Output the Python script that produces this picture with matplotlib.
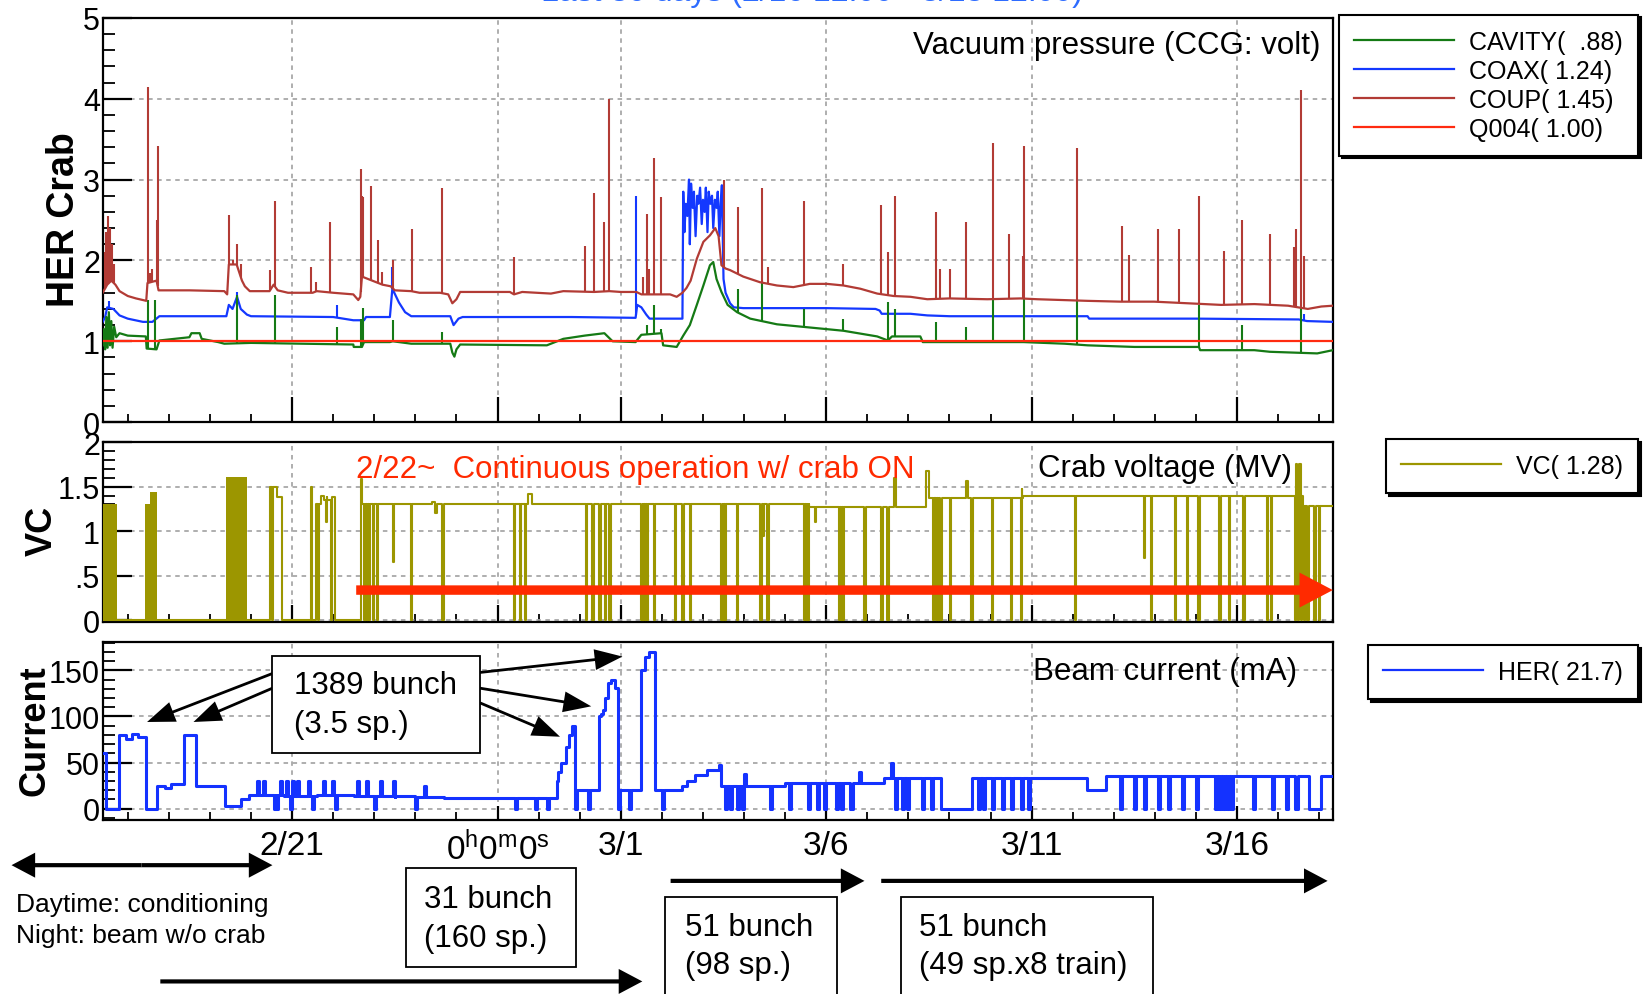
import numpy as np
import matplotlib.pyplot as plt
from matplotlib.patches import Rectangle, FancyArrowPatch, ArrowStyle
from matplotlib.lines import Line2D
from matplotlib.ticker import FixedLocator, MultipleLocator

plt.rcParams['font.family'] = ['Liberation Sans', 'DejaVu Sans']

# time axis: days counted from 2/21 00:00
t_first, t_last = -4.61, 25.33
date_ticks = [0, 5, 8, 13, 18, 23]
date_labels = ['2/21', r'$\mathregular{0^h0^m0^s}$', '3/1', '3/6', '3/11', '3/16']

# ---------------- HER crab vacuum, CCG (volt) ----------------
coup_t = [-4.61, -4.50, -4.40, -4.30, -4.20, -4.00, -3.80, -3.63, -3.55, -3.52, -3.30, -3.25,
          -2.50, -1.65, -1.58, -1.54, -1.35, -1.22, -1.15, -1.03, -0.55, -0.45, -0.35, -0.10,
          0.50, 0.60, 1.00, 1.49, 1.61, 1.66, 1.70, 1.95, 2.20, 2.40, 2.50, 2.90, 3.10, 3.60,
          3.80, 3.90, 4.00, 4.09, 5.30, 5.40, 5.60, 6.30, 6.60, 7.35, 7.72, 8.00, 8.38, 8.50,
          9.20, 9.36, 9.50, 9.60, 9.70, 9.85, 10.01, 10.17, 10.30, 10.38, 10.45, 10.55, 10.66,
          10.98, 11.39, 11.80, 12.20, 12.60, 13.02, 13.42, 13.83, 14.24, 14.64, 15.05, 15.46,
          16.00, 16.92, 17.73, 18.14, 19.36, 20.17, 20.98, 21.80, 22.61, 23.42, 24.24, 24.72,
          25.05, 25.33]
coup_v = [1.60, 1.70, 1.75, 1.70, 1.62, 1.56, 1.53, 1.51, 1.50, 1.72, 1.75, 1.63,
          1.63, 1.62, 1.58, 1.95, 1.95, 1.75, 1.68, 1.62, 1.62, 1.70, 1.63, 1.60,
          1.60, 1.62, 1.60, 1.58, 1.51, 1.55, 1.80, 1.75, 1.70, 1.68, 1.63, 1.62, 1.60, 1.60,
          1.58, 1.47, 1.52, 1.61, 1.61, 1.58, 1.61, 1.59, 1.62, 1.61, 1.62, 1.61, 1.61, 1.58,
          1.58, 1.55, 1.60, 1.66, 1.75, 2.02, 2.23, 2.31, 2.40, 2.30, 1.94, 1.90, 1.88,
          1.80, 1.73, 1.69, 1.67, 1.71, 1.71, 1.69, 1.65, 1.59, 1.56, 1.55, 1.52,
          1.53, 1.52, 1.53, 1.52, 1.50, 1.49, 1.49, 1.47, 1.45, 1.46, 1.44, 1.40,
          1.43, 1.44]
coup_spike_t = [-4.56, -4.52, -4.48, -4.45, -4.42, -4.38, -4.34, -3.50, -3.45, -3.40,
                -3.30, -3.27, -1.54, -1.45, -1.34, -1.25, -0.54, -0.42, 0.45, 0.58,
                0.92, 1.67, 1.70, 1.73, 1.91, 2.08, 2.20, 2.46, 2.91, 3.64,
                5.39, 7.12, 7.35, 7.59, 7.71, 8.53, 8.63, 8.69, 8.80, 8.99,
                10.50, 10.85, 11.43, 11.59, 12.46, 13.42, 14.33, 14.50, 14.68, 15.66,
                15.78, 16.02, 16.41, 17.07, 17.46, 17.78, 17.81, 19.10, 20.20, 20.37,
                21.07, 21.59, 22.07, 22.69, 23.11, 23.80, 24.38, 24.44, 24.56, 24.62]
coup_spike_v = [2.10, 2.35, 2.55, 2.30, 2.40, 2.20, 1.95, 4.15, 1.85, 1.90,
                2.50, 3.42, 2.56, 2.00, 2.20, 1.95, 1.88, 2.74, 1.92, 1.73,
                2.48, 3.13, 2.80, 2.78, 2.92, 2.25, 1.86, 2.00, 2.39, 2.89,
                2.04, 2.18, 2.83, 2.48, 4.00, 1.80, 2.57, 1.89, 3.27, 2.78,
                2.99, 2.66, 2.89, 1.92, 2.74, 1.96, 2.68, 2.10, 2.80, 2.60,
                1.89, 1.89, 2.48, 3.45, 2.33, 2.05, 3.42, 3.39, 2.42, 2.07,
                2.39, 2.39, 2.80, 2.12, 2.50, 2.33, 2.16, 2.39, 4.11, 2.06]

coax_t = [-4.61, -4.55, -4.50, -4.35, -4.20, -4.00, -3.63, -3.40, -3.23, -1.60,
          -1.54, -1.45, -1.34, -1.25, -1.10, -1.00, 1.00, 1.49, 1.75, 1.80,
          2.38, 2.44, 2.60, 2.75, 2.90, 3.85, 3.93, 4.05, 4.15, 6.80,
          8.36, 8.40, 8.50, 8.62, 8.70, 9.50, 9.52, 9.55, 9.58, 9.62,
          9.66, 9.68, 9.71, 9.75, 9.78, 9.82, 9.86, 9.89, 9.93, 9.97,
          10.00, 10.04, 10.07, 10.11, 10.14, 10.18, 10.22, 10.25, 10.29, 10.33,
          10.36, 10.40, 10.43, 10.46, 10.50, 10.55, 10.66, 10.75, 10.98, 12.00,
          13.00, 14.20, 14.30, 14.35, 15.05, 15.46, 16.00, 19.36, 19.40, 22.00,
          24.50, 24.70, 25.33]
coax_v = [1.24, 1.30, 1.42, 1.40, 1.32, 1.28, 1.24, 1.24, 1.31, 1.31,
          1.45, 1.40, 1.55, 1.40, 1.33, 1.31, 1.30, 1.26, 1.26, 1.30,
          1.30, 1.65, 1.48, 1.36, 1.31, 1.31, 1.20, 1.28, 1.30, 1.30,
          1.29, 1.45, 1.42, 1.33, 1.28, 1.28, 2.85, 2.35, 2.70, 2.55,
          3.00, 2.20, 2.95, 2.65, 2.85, 2.30, 2.80, 2.70, 2.90, 2.45,
          2.75, 2.60, 2.90, 2.35, 2.85, 2.70, 2.80, 2.40, 2.75, 2.65,
          2.85, 2.30, 2.70, 2.93, 1.77, 1.60, 1.47, 1.42, 1.41, 1.41,
          1.41, 1.40, 1.38, 1.34, 1.34, 1.32, 1.31, 1.31, 1.28, 1.28,
          1.27, 1.25, 1.24]
coax_spike_t = [-4.45, -1.34, 1.10, 2.44, 8.37, 24.62]
coax_spike_v = [1.50, 1.61, 1.45, 1.92, 2.80, 1.34]

cav_t = [-4.61, -4.58, -4.55, -4.52, -4.49, -4.46, -4.43, -4.40, -4.37, -4.33,
         -4.28, -4.20, -4.00, -3.56, -3.54, -3.30, -3.23, -2.50, -2.45, -2.25,
         -2.20, -1.80, -1.65, -1.00, 1.49, 1.50, 1.70, 1.75, 2.38, 2.45,
         2.90, 3.85, 3.90, 3.95, 4.00, 4.09, 6.20, 6.60, 7.12, 7.60,
         7.80, 8.36, 8.42, 8.50, 8.99, 9.03, 9.36, 9.52, 9.68, 9.85,
         10.01, 10.17, 10.25, 10.33, 10.45, 10.60, 10.83, 11.15, 11.80, 12.61,
         13.42, 14.24, 14.50, 14.60, 15.29, 15.35, 17.80, 18.80, 19.36, 20.50,
         22.07, 22.10, 23.42, 23.80, 24.95, 25.33]
cav_v = [0.95, 1.15, 0.90, 1.30, 0.92, 1.36, 0.95, 1.25, 0.92, 1.18,
         1.05, 1.10, 1.07, 1.06, 0.91, 0.90, 1.01, 1.05, 1.10, 1.10,
         1.03, 0.99, 0.97, 0.98, 0.96, 0.93, 0.93, 0.99, 0.99, 1.00,
         0.97, 0.97, 0.86, 0.81, 0.90, 0.96, 0.95, 1.03, 1.07, 1.10,
         1.00, 0.99, 1.03, 1.08, 1.10, 0.95, 0.93, 1.07, 1.20, 1.45,
         1.69, 1.94, 1.98, 1.77, 1.61, 1.45, 1.36, 1.28, 1.21, 1.17,
         1.13, 1.06, 1.01, 1.06, 1.06, 0.99, 0.99, 0.97, 0.95, 0.93,
         0.93, 0.89, 0.89, 0.87, 0.85, 0.89]
cav_spike_t = [-3.50, -3.33, -1.34, -0.42, 1.10, 1.67, 1.73, 2.46, 3.64, 8.63,
               8.80, 8.99, 10.85, 11.43, 12.46, 13.42, 14.50, 14.68, 15.66, 16.41,
               17.07, 17.81, 19.10, 22.07, 23.11, 24.56]
cav_spike_v = [1.51, 1.51, 1.57, 1.57, 1.18, 1.28, 1.41, 1.26, 1.12, 1.20,
               1.45, 1.15, 1.65, 1.73, 1.40, 1.28, 1.49, 1.40, 1.24, 1.18,
               1.51, 1.53, 1.51, 1.45, 1.20, 1.42]

q004_t = [t_first, t_last]
q004_v = [1.00, 1.00]

# ---------------- crab voltage (MV) ----------------
vc_t = [-4.61, -0.55, -0.36, -0.25, 0.46, 0.48, 0.57, 0.70, 0.78, 0.85,
        1.04, 1.67, 1.70, 3.40, 3.47, 3.52, 5.75, 5.83, 12.58, 14.66,
        14.70, 15.42, 15.50, 16.40, 16.44, 17.76, 17.80, 24.44, 24.50, 24.60, 25.33]
vc_v = [0.00, 1.50, 1.38, 0.00, 1.50, 0.00, 1.31, 1.40, 1.35, 1.38,
        0.00, 1.59, 1.31, 1.33, 1.20, 1.31, 1.42, 1.31, 1.27, 1.60,
        1.27, 1.68, 1.37, 1.56, 1.37, 1.47, 1.40, 1.75, 1.40, 1.28, 1.28]
vc_trip_t = [-0.50, 0.62, 0.82, 0.95, 1.74, 1.78, 1.82, 1.87, 1.97, 2.07,
             2.46, 2.89, 3.66, 5.40, 5.55, 5.66, 7.15, 7.31, 7.48, 7.62,
             7.72, 8.50, 8.54, 8.58, 8.63, 8.80, 9.32, 9.50, 9.68, 10.45,
             10.49, 10.53, 10.82, 11.40, 11.46, 11.57, 12.46, 12.50, 12.54, 12.72,
             13.30, 13.35, 13.41, 13.93, 14.34, 14.49, 15.60, 15.66, 15.72, 15.78,
             16.01, 16.53, 17.04, 17.50, 17.74, 19.06, 20.73, 20.90, 21.48, 21.77,
             22.06, 22.57, 22.80, 23.15, 23.73, 23.82, 24.42, 24.48, 24.55, 24.62,
             24.71, 24.88, 24.99]
vc_trip_v = [0, 0, 1.10, 0, 0, 0, 0, 0, 0, 0,
             0.65, 0, 0, 0, 0, 0, 0, 0, 0, 0,
             0, 0, 0, 0, 0, 0, 0, 0, 0, 0,
             0, 0, 0, 0, 0.95, 0, 0, 0, 0, 1.10,
             0, 0, 0, 0, 0, 0, 0, 0, 0, 0,
             0, 0, 0, 0, 0, 0, 0.70, 0, 0, 0,
             0, 0, 0, 0, 0, 0, 0, 0, 0, 0,
             0, 0, 0]
# conditioning periods (dense on/off switching)
vc_block_start = [-4.61, -3.57, -3.45, -1.60]
vc_block_end = [-4.26, -3.45, -3.28, -1.09]
vc_block_top = [1.31, 1.31, 1.44, 1.61]

# ---------------- HER beam current (mA) ----------------
her_t = [-4.61, -4.53, -4.22, -4.05, -3.90, -3.75, -3.55, -3.28, -3.10, -2.95,
         -2.62, -2.35, -1.64, -1.25, -1.05, -0.20, 0.60, 1.50, 2.50, 3.70,
         4.50, 6.44, 6.47, 6.55, 6.66, 6.75, 6.82, 6.88, 6.93, 7.37,
         7.46, 7.52, 7.57, 7.62, 7.70, 7.76, 7.85, 7.94, 7.97, 8.46,
         8.50, 8.60, 8.68, 8.83, 9.50, 9.60, 9.80, 10.10, 10.40, 10.44,
         12.00, 14.40, 15.80, 16.55, 19.35, 19.80, 24.76, 25.05, 25.33]
her_v = [60, 0, 80, 76, 81, 78, 0, 25, 22, 27,
         80, 25, 3, 10, 15, 14, 15, 14, 13, 12,
         12, 30, 40, 50, 67, 80, 90, 0, 20, 20,
         100, 103, 107, 120, 136, 140, 131, 0, 20, 20,
         150, 165, 170, 20, 25, 30, 36, 42, 47, 25,
         28, 33, 0, 33, 20, 35, 0, 35, 35]
her_trip_t = [-0.85, -0.70, -0.45, -0.40, -0.30, -0.15, -0.05, 0.00, 0.12, 0.38,
              0.49, 0.75, 0.98, 1.05, 1.58, 1.80, 2.00, 2.15, 2.46, 3.00,
              3.20, 5.42, 5.90, 6.20, 7.20, 8.20, 9.00, 10.53, 10.65, 10.82,
              10.94, 11.00, 11.63, 12.09, 12.55, 12.78, 12.95, 13.24, 13.36, 13.59,
              13.80, 14.57, 14.68, 14.85, 14.97, 15.32, 15.55, 16.70, 16.81, 17.04,
              17.27, 17.50, 17.74, 17.91, 20.15, 20.50, 20.73, 21.08, 21.31, 21.65,
              22.00, 22.46, 22.55, 22.65, 22.75, 22.85, 23.38, 23.84, 24.19, 24.42]
her_trip_v = [30, 30, 0, 0, 30, 30, 0, 30, 30, 30,
              0, 30, 30, 0, 30, 30, 0, 30, 30, 0,
              25, 0, 0, 0, 0, 0, 0, 0, 0, 0,
              0, 38, 0, 0, 0, 0, 0, 0, 0, 0,
              40, 50, 0, 0, 0, 0, 0, 0, 0, 0,
              0, 0, 0, 0, 0, 0, 0, 0, 0, 0,
              0, 0, 0, 0, 0, 0, 0, 0, 0, 0]

# arrow targets on the beam current trace (day, mA)
bunch_t = [-3.53, -2.40, 8.04, 7.28, 6.52]
bunch_v = [94, 94, 165, 111, 78]

c_cav, c_coax, c_coup, c_q004 = '#157a15', '#1438ff', '#b23b35', '#ff2b10'
c_vc, c_her, c_red = '#9c9600', '#1432ff', '#ff2a00'


def with_trips(t, v, trip_t, trip_v, width):
    # step trace with short excursions put in at the given times
    t = np.asarray(t, float)
    v = np.asarray(v, float)
    tt, vv = list(t), list(v)
    for d, lo in zip(trip_t, trip_v):
        lvl = v[np.searchsorted(t, d, side='right') - 1]
        tt += [d, d + width]
        vv += [lo, lvl]
    order = np.argsort(tt, kind='stable')
    return np.array(tt)[order], np.array(vv)[order]


def spikes(ax, st, sv, bt, bv, **kw):
    foot = np.interp(st, bt, bv)
    ax.vlines(st, foot, sv, **kw)


# layout grid: 1568 x 950 units across the figure
def fx(x):
    return x / 1568.0


def fy(y):
    return 1 - y / 950.0


fig = plt.figure(figsize=(16.43, 9.95), dpi=100)
L, R = 98, 1272
ax1 = fig.add_axes([fx(L), fy(404), fx(R) - fx(L), fy(18) - fy(404)])
ax2 = fig.add_axes([fx(L), fy(595), fx(R) - fx(L), fy(423) - fy(595)])
ax3 = fig.add_axes([fx(L), fy(784), fx(R) - fx(L), fy(614) - fy(784)])

# vacuum
ax1.plot(coax_t, coax_v, color=c_coax, lw=1.6, zorder=3)
spikes(ax1, coax_spike_t, coax_spike_v, coax_t, coax_v, color=c_coax, lw=1.5, zorder=3)
ax1.plot(cav_t, cav_v, color=c_cav, lw=1.6, zorder=4)
spikes(ax1, cav_spike_t, cav_spike_v, cav_t, cav_v, color=c_cav, lw=1.5, zorder=4)
ax1.plot(coup_t, coup_v, color=c_coup, lw=1.6, zorder=5)
spikes(ax1, coup_spike_t, coup_spike_v, coup_t, coup_v, color=c_coup, lw=1.5, zorder=5)
ax1.plot(q004_t, q004_v, color=c_q004, lw=1.6, zorder=6)
ax1.set_ylim(0, 5)

# crab voltage
for s, e, top in zip(vc_block_start, vc_block_end, vc_block_top):
    ax2.fill_between([s, e], 0, top, color=c_vc, lw=0, zorder=3)
vt, vv = with_trips(vc_t, vc_v, vc_trip_t, vc_trip_v, 0.03)
ax2.plot(vt, vv, color=c_vc, lw=1.5, drawstyle='steps-post', zorder=3)
ax2.set_ylim(-0.02, 2)

# beam current
ht, hv = with_trips(her_t, her_v, her_trip_t, her_trip_v, 0.05)
ax3.plot(ht, hv, color=c_her, lw=2.2, drawstyle='steps-post', zorder=3)
ax3.set_ylim(-12.5, 180.7)

ax1.set_yticks([0, 1, 2, 3, 4, 5], labels=['0', '1', '2', '3', '4', '5'])
ax1.yaxis.set_minor_locator(MultipleLocator(0.2))
ax2.set_yticks([0, 0.5, 1, 1.5, 2], labels=['0', '.5', '1', '1.5', '2'])
ax2.yaxis.set_minor_locator(MultipleLocator(0.1))
ax3.set_yticks([0, 50, 100, 150], labels=['0', '50', '100', '150'])
ax3.yaxis.set_minor_locator(MultipleLocator(10))

for ax, xlen in [(ax1, 18), (ax2, 12), (ax3, 10)]:
    ax.set_xlim(t_first, t_last)
    ax.xaxis.set_major_locator(FixedLocator(date_ticks))
    ax.xaxis.set_minor_locator(MultipleLocator(1))
    ax.grid(True, which='major', color='#a8a8a8', ls=(0, (2.5, 2.5)), lw=1.3)
    ax.tick_params(which='both', direction='in', top=False, right=False, colors='black')
    ax.tick_params(axis='y', which='major', length=21, width=1.6, pad=2, labelsize=22)
    ax.tick_params(axis='y', which='minor', length=8.5, width=1.3)
    ax.tick_params(axis='x', which='major', length=xlen, width=1.6, pad=7, labelsize=24)
    ax.tick_params(axis='x', which='minor', length=6, width=1.3)
    for sp in ax.spines.values():
        sp.set_linewidth(1.6)
ax1.tick_params(labelbottom=False)
ax2.tick_params(labelbottom=False)
ax3.set_xticks(date_ticks, labels=date_labels)

# axis titles
fig.text(fx(61), fy(210), 'HER Crab', rotation=90, ha='center', va='center',
         fontsize=27, fontweight='bold')
fig.text(fx(40), fy(507), 'VC', rotation=90, ha='center', va='center',
         fontsize=26, fontweight='bold')
fig.text(fx(33), fy(698), 'Current', rotation=90, ha='center', va='center',
         fontsize=26, fontweight='bold')

fig.text(fx(775), fy(1.0), 'Last 30 days (2/16 12:00 - 3/18 12:00)', color='#2e6cff',
         fontsize=23, ha='center', va='baseline')

ax1.text(0.99, 0.933, 'Vacuum pressure (CCG: volt)', transform=ax1.transAxes,
         ha='right', va='center', fontsize=22.5)
ax2.text(0.967, 0.855, 'Crab voltage (MV)', transform=ax2.transAxes,
         ha='right', va='center', fontsize=22.5)
ax3.text(0.971, 0.835, 'Beam current (mA)', transform=ax3.transAxes,
         ha='right', va='center', fontsize=22.5)
ax2.text(0.206, 0.85, '2/22~  Continuous operation w/ crab ON', transform=ax2.transAxes,
         ha='left', va='center', fontsize=22.5, color=c_red)

# continuous operation arrow
ax2.annotate('', xy=(t_last, 0.34), xytext=(1.56, 0.34), annotation_clip=False,
             arrowprops=dict(arrowstyle=ArrowStyle('simple', head_length=0.6,
                                                   head_width=0.63, tail_width=0.17),
                             mutation_scale=40, lw=0, color=c_red, shrinkA=0, shrinkB=0),
             zorder=6)


def legend_box(ax, colors, labels, top):
    handles = [Line2D([], [], color=c, lw=1.6) for c in colors]
    leg = ax.legend(handles, labels, loc='upper right', bbox_to_anchor=(0.997, top),
                    bbox_transform=fig.transFigure, fontsize=18, handlelength=4.0,
                    handletextpad=0.6, borderpad=0.6, labelspacing=0.2, borderaxespad=0,
                    fancybox=False, edgecolor='black', framealpha=1,
                    shadow={'color': 'black', 'alpha': 1})
    leg.get_frame().set_linewidth(1.5)


legend_box(ax1, [c_cav, c_coax, c_coup, c_q004],
           ['CAVITY(  .88)', 'COAX( 1.24)', 'COUP( 1.45)', 'Q004( 1.00)'], fy(15))
legend_box(ax2, [c_vc], ['VC( 1.28)'], fy(420))
legend_box(ax3, [c_her], ['HER( 21.7)'], fy(617))


def box(x0, y0, x1, y1):
    fig.add_artist(Rectangle((fx(x0), fy(y1)), fx(x1) - fx(x0), fy(y0) - fy(y1),
                             transform=fig.transFigure, fc='white', ec='black',
                             lw=1.3, clip_on=False, zorder=8))


def arrow(x0, y0, x1, y1):
    st = ArrowStyle('simple', head_length=0.85, head_width=0.9, tail_width=0.15)
    fig.add_artist(FancyArrowPatch((fx(x0), fy(y0)), (fx(x1), fy(y1)),
                                   transform=fig.transFigure, arrowstyle=st,
                                   mutation_scale=20, lw=0, color='black',
                                   shrinkA=0, shrinkB=0, zorder=9))


# 1389 bunch box and pointers
box(260, 627, 458, 720)
fig.text(fx(281), fy(655), '1389 bunch', fontsize=22.5, va='center', zorder=9)
fig.text(fx(281), fy(692), '(3.5 sp.)', fontsize=22.5, va='center', zorder=9)
starts = [(260, 644), (260, 658), (458, 643), (458, 658), (458, 672)]
for (sx, sy), bt, bv in zip(starts, bunch_t, bunch_v):
    ax3.annotate('', xy=(bt, bv), xytext=(fx(sx), fy(sy)), textcoords='figure fraction',
                 annotation_clip=False,
                 arrowprops=dict(arrowstyle=ArrowStyle('simple', head_length=1.0,
                                                       head_width=0.75, tail_width=0.1),
                                 mutation_scale=20, lw=0, color='black',
                                 shrinkA=0, shrinkB=0))

# period annotations below the time axis
arrow(135, 827, 11, 827)
arrow(135, 827, 260, 827)
fig.text(fx(15), fy(864), 'Daytime: conditioning', fontsize=19, va='center')
fig.text(fx(15), fy(894), 'Night: beam w/o crab', fontsize=19, va='center')

box(387, 830, 550, 924)
fig.text(fx(405), fy(859), '31 bunch', fontsize=22.5, va='center', zorder=9)
fig.text(fx(405), fy(897), '(160 sp.)', fontsize=22.5, va='center', zorder=9)
arrow(153, 938, 613, 938)

arrow(640, 842, 825, 842)
box(635, 857, 799, 960)
fig.text(fx(654), fy(886), '51 bunch', fontsize=22.5, va='center', zorder=9)
fig.text(fx(654), fy(922), '(98 sp.)', fontsize=22.5, va='center', zorder=9)

arrow(841, 842, 1267, 842)
box(860, 857, 1100, 960)
fig.text(fx(877), fy(886), '51 bunch', fontsize=22.5, va='center', zorder=9)
fig.text(fx(877), fy(922), '(49 sp.x8 train)', fontsize=22.5, va='center', zorder=9)

fig.savefig('out.png', dpi=100)
